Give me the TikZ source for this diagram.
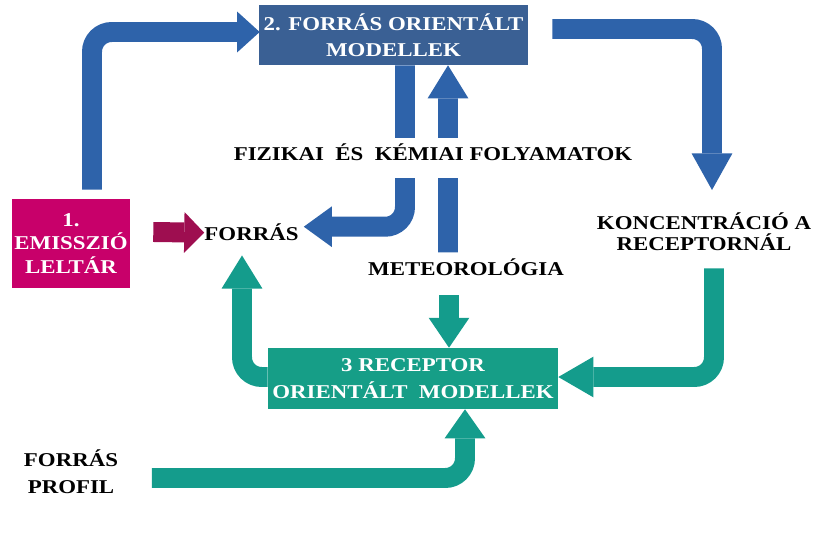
\documentclass[tikz,border=0pt]{standalone}
\usepackage{fontspec}
\setmainfont{Liberation Serif}[FakeStretch=1.17]
\usetikzlibrary{arrows.meta,calc}

\definecolor{flowblue}{RGB}{46,99,170}
\definecolor{boxblue}{RGB}{58,96,148}
\definecolor{flowteal}{RGB}{20,156,140}
\definecolor{boxteal}{RGB}{22,158,135}
\definecolor{emismag}{RGB}{200,0,106}
\definecolor{arrowmag}{RGB}{158,14,80}

\tikzset{
  lbl/.style={inner sep=0pt, align=center,
    font=\bfseries\fontsize{13.9}{18.5}\selectfont},
  modbox/.style={lbl, text=white},
  flow/.style={line width=14.2pt, rounded corners=14pt},
  flowtip/.style={-{Triangle[width=29pt,length=#1,line width=0pt]}},
  flowtip/.default=22pt,
}

\begin{document}
\begin{tikzpicture}[x=0.025cm, y=-0.025cm]
  \useasboundingbox (0,0) rectangle (835,552);

  % the three model boxes
  \node[modbox, fill=emismag, minimum width=2.95cm, minimum height=2.225cm,
    font=\bfseries\fontsize{13.9}{17}\selectfont] (emis) at (71,243.5)
    {1.\\EMISSZIÓ\\LELTÁR};
  \node[modbox, fill=boxblue, minimum width=6.725cm, minimum height=1.5cm] (forr)
    at (393.5,35) {2. FORRÁS ORIENTÁLT\\MODELLEK};
  \node[modbox, fill=boxteal, minimum width=7.25cm, minimum height=1.525cm,
    font=\bfseries\fontsize{13.9}{19.2}\selectfont] (rec) at (413,378.5)
    {3 RECEPTOR\\ORIENTÁLT\ \ MODELLEK};

  % plain labels
  \node[lbl, anchor=base] (src) at (251.5,240) {FORRÁS};
  \node[lbl, anchor=base] (met) at (466,275) {METEOROLÓGIA};
  \node[lbl, anchor=north, font=\bfseries\fontsize{13.9}{15.6}\selectfont] (konc)
    at (704,212) {KONCENTRÁCIÓ A\\RECEPTORNÁL};
  \node[lbl, font=\bfseries\fontsize{13.9}{19.2}\selectfont] (prof) at (71,472)
    {FORRÁS\\PROFIL};

  % blue flows
  \draw[flow, flowblue, flowtip=16pt] ($(emis.north)+(21,-9)$) |- ($(forr.west)+(1,-3)$);
  \draw[flow, flowblue, flowtip=26pt] ($(forr.east)+(24,-6)$) -| ($(konc.north)+(8,-22)$);
  \draw[flow, flowblue, flowtip=20pt] ($(forr.south)+(11.5,0)$) |- ($(src.east)+(5,-5)$);
  \draw[flow, flowblue, flowtip=23.5pt] ($(met.north)+(-18,-5.5)$) -- ($(forr.south)+(54.5,0)$);

  % teal flows
  \draw[flow, flowteal, flowtip=21.3pt] ($(met.south)+(-17,20)$) -- ($(rec.north)+(36,0)$);
  \draw[flow, flowteal, flowtip=23.5pt] ($(rec.west)+(0,-1.5)$) -| ($(src.south)+(-9.5,15)$);
  \draw[flow, flowteal, flowtip=25pt] ($(konc.south)+(10,17)$) |- ($(rec.east)+(0,-1.5)$);
  \draw[flow, flowteal, flowtip=20.6pt] ($(prof.east)+(33.5,6)$) -| ($(rec.south)+(52,0)$);

  % emission input
  \draw[flow, arrowmag, flowtip=14.2pt] ($(emis.east)+(23,-11.5)$) -- ($(src.west)+(0,1)$);

  % label over the two vertical flows
  \node[lbl, anchor=base, fill=white, inner xsep=2pt, inner ysep=4pt, text depth=8.5pt]
    (fiz) at (433,160) {FIZIKAI\ \ ÉS\ \ KÉMIAI FOLYAMATOK};
\end{tikzpicture}
\end{document}
